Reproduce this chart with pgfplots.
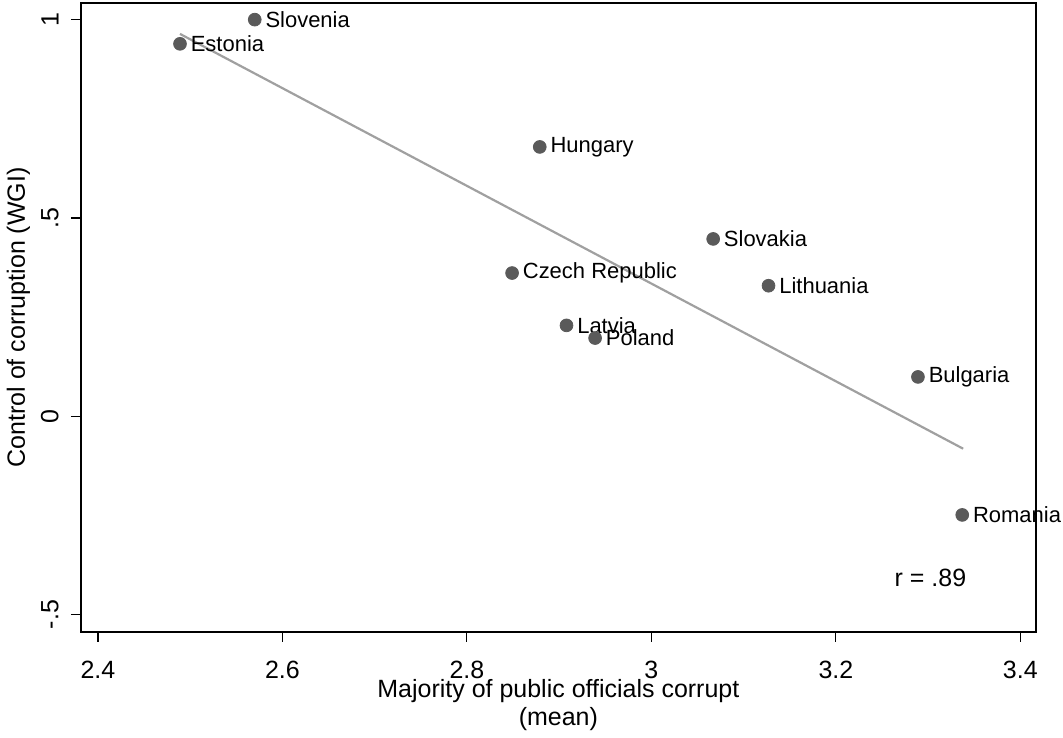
\documentclass[border=0pt]{standalone}
\usepackage{pgfplots}
\pgfplotsset{compat=1.18}
\usepackage{fontspec}
\setmainfont{Liberation Sans}
\definecolor{markgray}{RGB}{90,90,90}
\definecolor{linegray}{RGB}{160,160,160}
\begin{document}
\begin{tikzpicture}
\begin{axis}[
  scale only axis,
  width=478pt, height=314.7pt,
  xmin=2.3814, xmax=3.417,
  ymin=-0.544, ymax=1.042,
  axis line style={black, line width=1pt},
  xtick={2.4,2.6,2.8,3,3.2,3.4},
  xticklabels={2.4,2.6,2.8,3,3.2,3.4},
  ytick={-0.5,0,0.5,1},
  yticklabels={-.5,0,.5,1},
  tick align=outside,
  major tick length=5pt,
  tick style={black, line width=0.6pt},
  xtick pos=bottom, ytick pos=left,
  /pgf/number format/assume math mode=true,
  ticklabel style={font=\fontsize{12.5}{15}\selectfont},
  yticklabel style={rotate=90, anchor=south, yshift=2.5pt},
  xticklabel style={yshift=-6pt},
  xlabel={Majority of public officials corrupt\\(mean)},
  xlabel style={at={(axis description cs:0.5,0)}, anchor=north, yshift=-20.4pt, align=center, font=\fontsize{12.5}{14}\selectfont},
  ylabel={Control of corruption (WGI)},
  ylabel style={at={(axis description cs:0,0.5)}, anchor=center, yshift=31.25pt, font=\fontsize{12.5}{15}\selectfont},
  clip=false,
]
\addplot[linegray, line width=1.1pt] coordinates {(2.489,0.964) (3.338,-0.082)};
\addplot[only marks, mark=*, mark size=3.2pt, mark options={fill=markgray, draw=markgray},
  point meta=explicit symbolic,
  nodes near coords,
  nodes near coords style={anchor=west, xshift=4.2pt, font=\fontsize{11}{13}\selectfont, text=black, inner sep=1pt},
] table[meta=label] {
x y label
2.570 1.000 Slovenia
2.489 0.939 Estonia
2.879 0.679 Hungary
3.067 0.447 Slovakia
2.849 0.361 {Czech Republic}
3.127 0.329 Lithuania
2.908 0.229 Latvia
2.939 0.197 Poland
3.289 0.099 Bulgaria
3.337 -0.249 Romania
};
\node[font=\fontsize{12.5}{15}\selectfont] at (axis cs:3.3025,-0.407) {r = .89};
\end{axis}
\path ([yshift=1.5pt]current axis.north);
\end{tikzpicture}
\end{document}
